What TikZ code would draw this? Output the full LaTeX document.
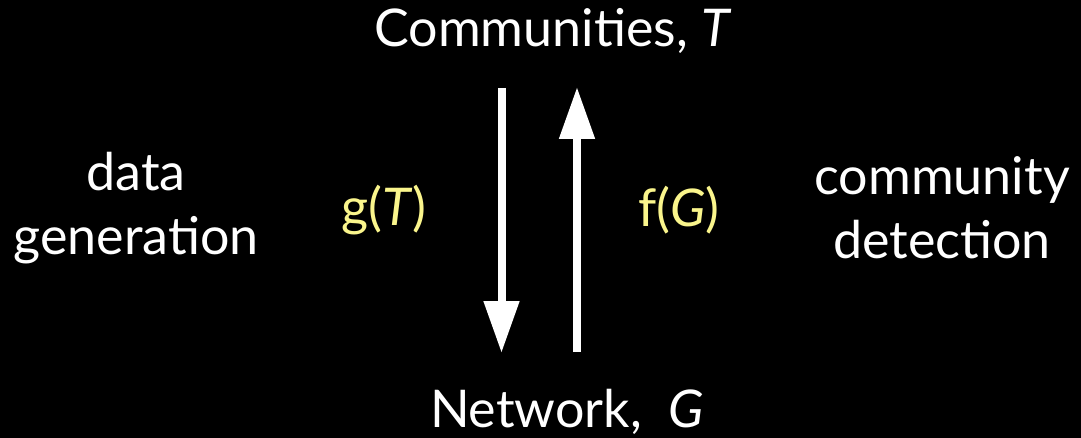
\documentclass[tikz,border=0pt]{standalone}
\usepackage{fontspec}
\setmainfont{Lato}
\usetikzlibrary{arrows.meta}
\definecolor{labelyellow}{RGB}{250,245,140}
\begin{document}
\begin{tikzpicture}[x=1pt,y=-1pt,
  txt/.style={text=white,font=\fontsize{52}{64}\selectfont,inner sep=0pt,align=center},
  fun/.style={text=labelyellow,font=\fontsize{52}{64}\selectfont,inner sep=0pt},
  flow/.style={white,line width=8pt,-{Triangle[width=34pt,length=52pt]}}]
  \fill[black] (0,0) rectangle (1081,438);
  \useasboundingbox (0,0) rectangle (1081,438);
  \node[txt] (comm) at (553,31) {Communities, \textit{T}};
  \node[txt] (net) at (567,412) {Network,\ \ \textit{G}};
  \node[txt] (gen) at (136,208) {data\\generation};
  \node[txt] (det) at (942,208) {community\\detection};
  \node[fun] (g) at (384,210) {g(\textit{T})};
  \node[fun] (f) at (679,210) {f(\textit{G})};
  \coordinate (dtop) at (501.5,88);
  \coordinate (dbot) at (501.5,353);
  \coordinate (ubot) at (577,352);
  \coordinate (utop) at (577,87);
  \draw[flow] (dtop) -- (dbot);
  \draw[flow] (ubot) -- (utop);
\end{tikzpicture}
\end{document}
